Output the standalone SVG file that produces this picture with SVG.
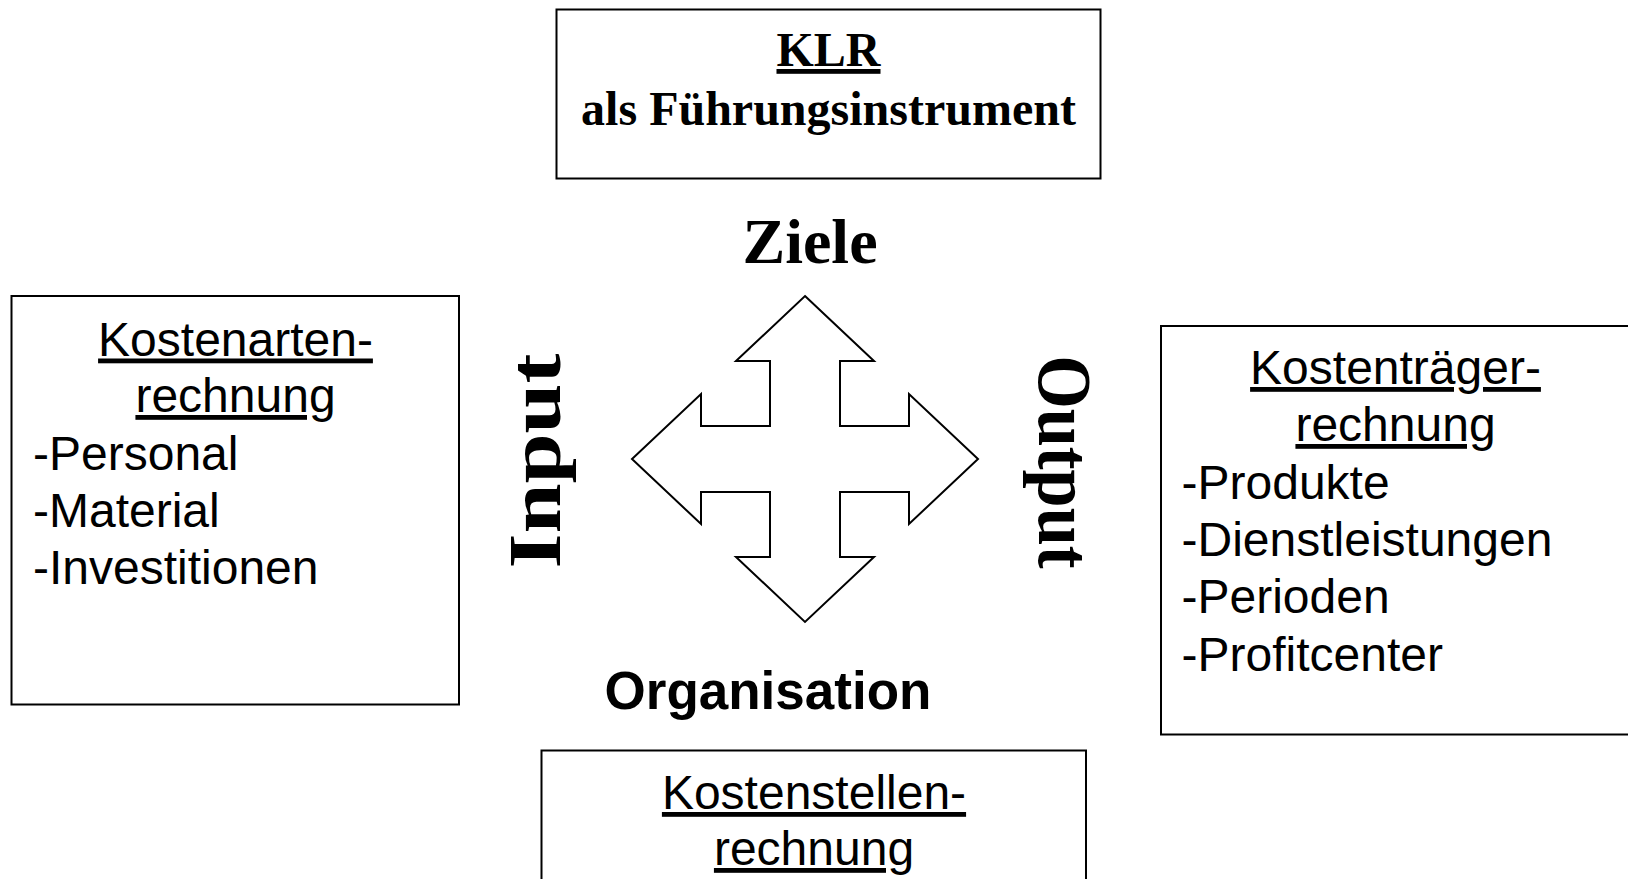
<svg xmlns="http://www.w3.org/2000/svg" width="1628" height="879" viewBox="0 0 1628 879">
  <style>
    .box { fill: #ffffff; stroke: #000000; stroke-width: 2; }
    .serif { font-family: "Liberation Serif", "Times New Roman", serif; font-weight: bold; fill: #000000; }
    .sans { font-family: "Liberation Sans", Arial, sans-serif; font-size: 48px; fill: #000000; }
    .bold { font-weight: bold; }
    .ul { text-decoration: underline; text-decoration-skip-ink: none; }
    .mid { text-anchor: middle; }
    .arrow { fill: #ffffff; stroke: #000000; stroke-width: 2; stroke-linejoin: miter; }
  </style>

  <rect width="1628" height="879" fill="#ffffff"/>

  <!-- KLR title box -->
  <g id="klr">
    <rect class="box" x="556.5" y="9.5" width="544" height="169"/>
    <text class="serif mid ul" x="828.5" y="66" font-size="48">KLR</text>
    <text class="serif mid" x="828.5" y="124.5" font-size="48">als Führungsinstrument</text>
  </g>

  <!-- axis labels -->
  <g id="label-ziele">
    <text class="serif mid" x="810" y="263" font-size="64">Ziele</text>
  </g>
  <g id="label-organisation">
    <text class="sans bold mid" x="768" y="709" style="font-size:53px">Organisation</text>
  </g>
  <g id="label-input">
    <text class="serif mid" transform="translate(560,461) rotate(-90)" font-size="75" textLength="215" lengthAdjust="spacingAndGlyphs">Input</text>
  </g>
  <g id="label-output">
    <text class="serif mid" transform="translate(1039,462) rotate(90)" font-size="76" textLength="213" lengthAdjust="spacingAndGlyphs">Output</text>
  </g>

  <!-- four-way arrow in the centre -->
  <g id="connectors">
    <path class="arrow" d="M805,296 L874,361 L840,361 L840,426 L909,426 L909,394 L978,459 L909,524 L909,492 L840,492 L840,557 L874,557 L805,622 L736,557 L770,557 L770,492 L701,492 L701,524 L632,459 L701,394 L701,426 L770,426 L770,361 L736,361 Z"/>
  </g>

  <!-- cost type accounting -->
  <g id="kostenarten">
    <rect class="box" x="11.5" y="296" width="447.5" height="408.5"/>
    <text class="sans mid ul" x="235.5" y="355.5">Kostenarten-</text>
    <text class="sans mid ul" x="235.5" y="412">rechnung</text>
    <text class="sans" x="33" y="469.5">-Personal</text>
    <text class="sans" x="33" y="527">-Material</text>
    <text class="sans" x="33" y="584">-Investitionen</text>
  </g>

  <!-- cost unit accounting -->
  <g id="kostentraeger">
    <rect class="box" x="1161" y="326" width="480" height="408.5"/>
    <text class="sans mid ul" x="1395.5" y="384">Kostenträger-</text>
    <text class="sans mid ul" x="1395.5" y="441">rechnung</text>
    <text class="sans" x="1181.5" y="498.5">-Produkte</text>
    <text class="sans" x="1181.5" y="556">-Dienstleistungen</text>
    <text class="sans" x="1181.5" y="613">-Perioden</text>
    <text class="sans" x="1181.5" y="670.5">-Profitcenter</text>
  </g>

  <!-- cost centre accounting -->
  <g id="kostenstellen">
    <rect class="box" x="541.5" y="750.5" width="544.5" height="150"/>
    <text class="sans mid ul" x="814" y="809">Kostenstellen-</text>
    <text class="sans mid ul" x="814" y="865">rechnung</text>
  </g>
</svg>
